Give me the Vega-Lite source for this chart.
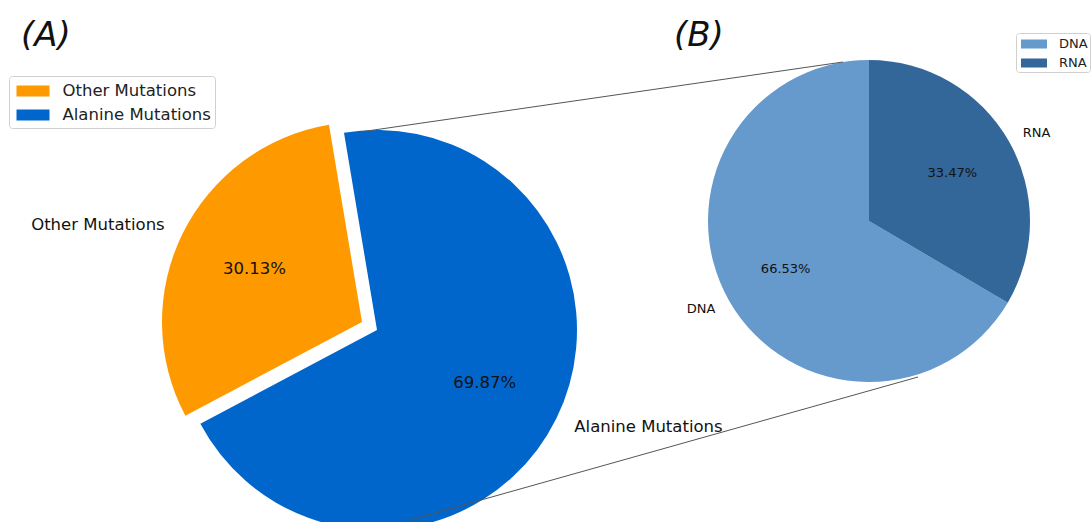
{
  "$schema": "https://vega.github.io/schema/vega-lite/v6.json",
  "width": 1091,
  "height": 522,
  "autosize": {"type": "none"},
  "padding": 0,
  "background": "white",
  "config": {
    "view": {"stroke": null},
    "text": {"font": "DejaVu Sans", "color": "#111111"}
  },
  "resolve": {"scale": {"theta": "independent", "color": "independent"}},
  "layer": [
    {
      "data": {"values": [
        {"label": "Other Mutations", "value": 0.3013},
        {"label": "Alanine Mutations", "value": 0.6987}
      ]},
      "layer": [
        {
          "mark": {"type": "arc", "outerRadius": 200},
          "encoding": {
            "x": {"datum": 362, "type": "quantitative", "scale": {"domain": [0, 1091], "nice": false, "zero": false}, "axis": null},
            "y": {"datum": 322, "type": "quantitative", "scale": {"domain": [0, 522], "nice": false, "zero": false, "reverse": true}, "axis": null},
            "theta": {"field": "value", "type": "quantitative", "stack": true, "scale": {"domain": [0, 1], "range": [-0.1658, 6.1174]}},
            "order": {"field": "label", "sort": "ascending"},
            "color": {"field": "label", "type": "nominal",
              "scale": {"domain": ["Other Mutations", "Alanine Mutations"], "range": ["#ff9900", "#0066cc"]},
              "legend": {"title": null, "orient": "none", "legendX": 9, "legendY": 76, "padding": 4,
                "labelFontSize": 16.5, "labelFont": "DejaVu Sans", "labelColor": "#222222",
                "symbolType": "M-1.5,-0.5H1.5V0.5H-1.5Z", "symbolSize": 484, "symbolStrokeWidth": 0, "symbolOpacity": 1,
                "symbolOffset": 9, "labelOffset": 18.5, "rowPadding": 4, "strokeColor": "#d0d0d0", "fillColor": "#ffffff", "cornerRadius": 3}},
            "opacity": {"condition": {"test": "datum.label === 'Other Mutations'", "value": 1}, "value": 0}
          }
        },
        {
          "mark": {"type": "arc", "outerRadius": 200},
          "encoding": {
            "x": {"datum": 377, "type": "quantitative", "scale": {"domain": [0, 1091], "nice": false, "zero": false}, "axis": null},
            "y": {"datum": 330, "type": "quantitative", "scale": {"domain": [0, 522], "nice": false, "zero": false, "reverse": true}, "axis": null},
            "theta": {"field": "value", "type": "quantitative", "stack": true},
            "order": {"field": "label", "sort": "ascending"},
            "color": {"field": "label", "type": "nominal"},
            "opacity": {"condition": {"test": "datum.label === 'Alanine Mutations'", "value": 1}, "value": 0}
          }
        },
        {
          "mark": {"type": "text", "radius": 120, "fontSize": 16.5, "baseline": "middle", "align": "center"},
          "encoding": {
            "x": {"datum": 362, "type": "quantitative"},
            "y": {"datum": 322, "type": "quantitative"},
            "theta": {"field": "value", "type": "quantitative", "stack": true},
            "order": {"field": "label", "sort": "ascending"},
            "detail": {"field": "label"},
            "text": {"field": "value", "type": "quantitative", "format": ".2%"},
            "opacity": {"condition": {"test": "datum.label === 'Other Mutations'", "value": 1}, "value": 0}
          }
        },
        {
          "mark": {"type": "text", "radius": 220, "fontSize": 16.5, "baseline": "middle", "align": "right"},
          "encoding": {
            "x": {"datum": 362, "type": "quantitative"},
            "y": {"datum": 322, "type": "quantitative"},
            "theta": {"field": "value", "type": "quantitative", "stack": true},
            "order": {"field": "label", "sort": "ascending"},
            "detail": {"field": "label"},
            "text": {"field": "label"},
            "opacity": {"condition": {"test": "datum.label === 'Other Mutations'", "value": 1}, "value": 0}
          }
        },
        {
          "mark": {"type": "text", "radius": 120, "fontSize": 16.5, "baseline": "middle", "align": "center"},
          "encoding": {
            "x": {"datum": 377, "type": "quantitative"},
            "y": {"datum": 330, "type": "quantitative"},
            "theta": {"field": "value", "type": "quantitative", "stack": true},
            "order": {"field": "label", "sort": "ascending"},
            "detail": {"field": "label"},
            "text": {"field": "value", "type": "quantitative", "format": ".2%"},
            "opacity": {"condition": {"test": "datum.label === 'Alanine Mutations'", "value": 1}, "value": 0}
          }
        },
        {
          "mark": {"type": "text", "radius": 220, "fontSize": 16.5, "baseline": "middle", "align": "left"},
          "encoding": {
            "x": {"datum": 377, "type": "quantitative"},
            "y": {"datum": 330, "type": "quantitative"},
            "theta": {"field": "value", "type": "quantitative", "stack": true},
            "order": {"field": "label", "sort": "ascending"},
            "detail": {"field": "label"},
            "text": {"field": "label"},
            "opacity": {"condition": {"test": "datum.label === 'Alanine Mutations'", "value": 1}, "value": 0}
          }
        }
      ]
    },
    {
      "data": {"values": [
        {"label": "DNA", "value": 0.6653},
        {"label": "RNA", "value": 0.3347}
      ]},
      "layer": [
        {
          "mark": {"type": "arc", "outerRadius": 161},
          "encoding": {
            "x": {"datum": 869, "type": "quantitative"},
            "y": {"datum": 221, "type": "quantitative"},
            "theta": {"field": "value", "type": "quantitative", "stack": true, "scale": {"domain": [0, 1], "range": [0, 6.2832]}},
            "order": {"field": "label", "sort": "descending"},
            "color": {"field": "label", "type": "nominal",
              "scale": {"domain": ["DNA", "RNA"], "range": ["#6699cc", "#336699"]},
              "legend": {"title": null, "orient": "none", "legendX": 1016, "legendY": 33, "padding": 2,
                "labelFontSize": 13, "labelFont": "DejaVu Sans", "labelColor": "#222222",
                "symbolType": "M-1.5,-0.52H1.5V0.52H-1.5Z", "symbolSize": 300, "symbolStrokeWidth": 0, "symbolOpacity": 1,
                "symbolOffset": 7, "labelOffset": 16, "rowPadding": 3, "strokeColor": "#d0d0d0", "fillColor": "#ffffff", "cornerRadius": 3}}
          }
        },
        {
          "mark": {"type": "text", "radius": 96, "fontSize": 13, "baseline": "middle", "align": "center"},
          "encoding": {
            "x": {"datum": 869, "type": "quantitative"},
            "y": {"datum": 221, "type": "quantitative"},
            "theta": {"field": "value", "type": "quantitative", "stack": true},
            "order": {"field": "label", "sort": "descending"},
            "detail": {"field": "label"},
            "text": {"field": "value", "type": "quantitative", "format": ".2%"}
          }
        },
        {
          "mark": {"type": "text", "radius": 177, "fontSize": 13, "baseline": "middle", "align": "left"},
          "encoding": {
            "x": {"datum": 869, "type": "quantitative"},
            "y": {"datum": 221, "type": "quantitative"},
            "theta": {"field": "value", "type": "quantitative", "stack": true},
            "order": {"field": "label", "sort": "descending"},
            "detail": {"field": "label"},
            "text": {"field": "label"},
            "opacity": {"condition": {"test": "datum.label === 'RNA'", "value": 1}, "value": 0}
          }
        },
        {
          "mark": {"type": "text", "radius": 177, "fontSize": 13, "baseline": "middle", "align": "right"},
          "encoding": {
            "x": {"datum": 869, "type": "quantitative"},
            "y": {"datum": 221, "type": "quantitative"},
            "theta": {"field": "value", "type": "quantitative", "stack": true},
            "order": {"field": "label", "sort": "descending"},
            "detail": {"field": "label"},
            "text": {"field": "label"},
            "opacity": {"condition": {"test": "datum.label === 'DNA'", "value": 1}, "value": 0}
          }
        }
      ]
    },
    {
      "data": {"values": [{"link": "upper"}]},
      "mark": {"type": "rule", "color": "#555555", "strokeWidth": 1},
      "encoding": {
        "x": {"datum": 360, "type": "quantitative"},
        "y": {"datum": 132, "type": "quantitative"},
        "x2": {"datum": 843},
        "y2": {"datum": 62}
      }
    },
    {
      "data": {"values": [{"link": "lower"}]},
      "mark": {"type": "rule", "color": "#555555", "strokeWidth": 1},
      "encoding": {
        "x": {"datum": 410, "type": "quantitative"},
        "y": {"datum": 520, "type": "quantitative"},
        "x2": {"datum": 918},
        "y2": {"datum": 377}
      }
    },
    {
      "data": {"values": [{"title": "(A)"}]},
      "mark": {"type": "text", "fontSize": 34, "fontStyle": "italic", "align": "left", "baseline": "alphabetic"},
      "encoding": {
        "x": {"datum": 21, "type": "quantitative"},
        "y": {"datum": 46, "type": "quantitative"},
        "text": {"field": "title"}
      }
    },
    {
      "data": {"values": [{"title": "(B)"}]},
      "mark": {"type": "text", "fontSize": 34, "fontStyle": "italic", "align": "left", "baseline": "alphabetic"},
      "encoding": {
        "x": {"datum": 674, "type": "quantitative"},
        "y": {"datum": 46, "type": "quantitative"},
        "text": {"field": "title"}
      }
    }
  ]
}
